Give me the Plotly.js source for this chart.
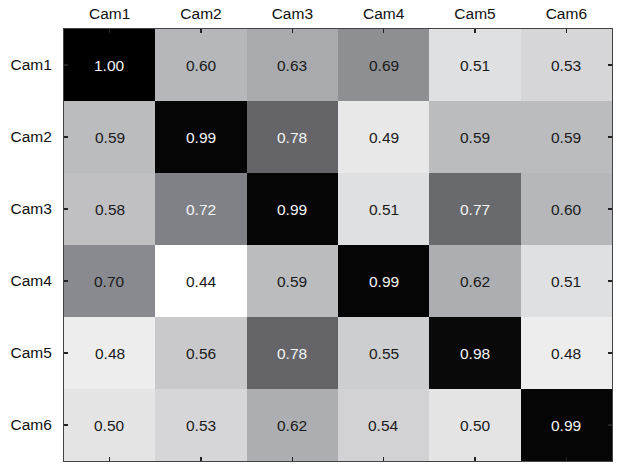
<!DOCTYPE html>
<html>
<head>
<meta charset="utf-8">
<script src="https://cdn.plot.ly/plotly-3.0.1.min.js"></script>
<style>html,body{margin:0;padding:0;background:#fff;}#chart{width:636px;height:473px;}</style>
</head>
<body>
<div id="chart"></div>
<script>
const cams = ["Cam1", "Cam2", "Cam3", "Cam4", "Cam5", "Cam6"];
const row1 = [1.00, 0.60, 0.63, 0.69, 0.51, 0.53];
const row2 = [0.59, 0.99, 0.78, 0.49, 0.59, 0.59];
const row3 = [0.58, 0.72, 0.99, 0.51, 0.77, 0.60];
const row4 = [0.70, 0.44, 0.59, 0.99, 0.62, 0.51];
const row5 = [0.48, 0.56, 0.78, 0.55, 0.98, 0.48];
const row6 = [0.50, 0.53, 0.62, 0.54, 0.50, 0.99];
const z = [row1, row2, row3, row4, row5, row6];

const zmin = 0.44, zmax = 1.0;
const annotations = [];
z.forEach((row, i) => row.forEach((v, j) => {
  annotations.push({
    x: cams[j], y: cams[i], xref: 'x', yref: 'y',
    text: v.toFixed(2), showarrow: false,
    font: {family: 'Liberation Sans, Arial, sans-serif', size: 15.5,
           color: v > 0.71 ? '#f4f4f4' : '#1a1a1a'}
  });
}));

const trace = {
  type: 'heatmap', x: cams, y: cams, z: z,
  zmin: zmin, zmax: zmax,
  colorscale: [[0, 'rgb(255,255,255)'], [0.5, 'rgb(128,129,134)'], [1, 'rgb(0,0,0)']],
  showscale: false, hoverinfo: 'none', xgap: 0, ygap: 0
};

const axisCommon = {
  ticks: 'inside', ticklen: 4, tickwidth: 1.2, tickcolor: '#222',
  showline: true, linecolor: '#444', linewidth: 1, mirror: 'ticks',
  showgrid: false, zeroline: false, layer: 'above traces',
  tickfont: {family: 'Liberation Sans, Arial, sans-serif', size: 15.5, color: '#111'}
};

const layout = {
  width: 636, height: 473,
  margin: {l: 64, r: 24, t: 29, b: 12},
  paper_bgcolor: '#fff', plot_bgcolor: '#fff',
  xaxis: Object.assign({}, axisCommon, {side: 'top', type: 'category', ticklabelstandoff: 3}),
  yaxis: Object.assign({}, axisCommon, {autorange: 'reversed', type: 'category', ticklabelstandoff: 8}),
  annotations: annotations,
  showlegend: false
};

Plotly.newPlot('chart', [trace], layout, {displayModeBar: false, staticPlot: true});
</script>
</body>
</html>
